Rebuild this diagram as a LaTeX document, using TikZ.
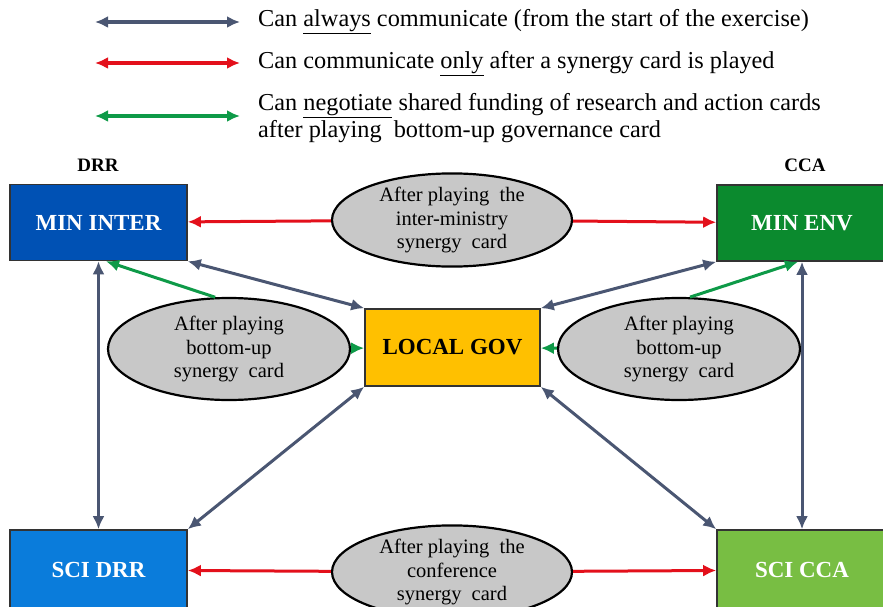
\documentclass[tikz,border=0pt]{standalone}
\usepackage{fontspec}
\setmainfont{Liberation Serif}
\usetikzlibrary{shapes.geometric, arrows.meta}

\definecolor{linkgray}{HTML}{4A5672}
\definecolor{linkred}{HTML}{E3101B}
\definecolor{linkgreen}{HTML}{0E9A48}
\definecolor{interblue}{HTML}{0051B4}
\definecolor{envgreen}{HTML}{0B8A2E}
\definecolor{drrblue}{HTML}{0A7CDB}
\definecolor{ccagreen}{HTML}{78BE43}
\definecolor{govorange}{HTML}{FFC000}
\definecolor{cardgray}{HTML}{C8C8C8}

\tikzset{
	actor/.style={draw=black!80, line width=1.6pt, minimum width=177pt, minimum height=76pt, font=\fontsize{23}{26}\selectfont\bfseries, text=white},
	card/.style={ellipse, draw=black, line width=2.2pt, fill=cardgray, minimum width=240pt, minimum height=84pt, inner sep=0pt, align=center, font=\fontsize{20.5}{23.5}\selectfont},
	side/.style={font=\fontsize{19}{22}\selectfont\bfseries},
	legend/.style={anchor=west, font=\fontsize{24.3}{27}\selectfont, inner sep=0pt},
	always/.style={<->, linkgray, line width=3pt},
	only/.style={<->, linkred, line width=3pt},
	nego/.style={<->, linkgreen, line width=3pt}
}

\begin{document}
\begin{tikzpicture}[x=1pt, y=-1pt, >={Latex[length=13pt,width=12pt]}]
	\useasboundingbox (0,0) rectangle (883,607);
	% legend
	\foreach \y/\kind [count=\i] in {22/always, 63/only, 116/nego} {
		\coordinate (l\i a) at (95,\y);
		\coordinate (l\i b) at (240,\y);
		\draw[\kind, line width=3.6pt] (l\i a) -- (l\i b);
	}
	\node[legend] (t1) at (258,22) {Can \underline{always} communicate (from the start of the exercise)};
	\node[legend] (t2) at (258,64) {Can communicate \underline{only} after a synergy card is played};
	\node[legend, align=left] (t3) at (258,118) {Can \underline{negotiate} shared funding of research and action cards\\after playing~ bottom-up governance card};

	% actors
	\node[side] (drr) at (98,165) {DRR};
	\node[side] (cca) at (805,165) {CCA};
	\node[actor, fill=interblue] (minter) at (98.5,222.5) {MIN INTER};
	\node[actor, fill=envgreen, minimum width=170pt] (minenv) at (802,223) {MIN ENV};
	\node[actor, fill=govorange, text=black, minimum width=175pt, minimum height=77pt] (localgov) at (452.5,347.5) {LOCAL GOV};
	\node[actor, fill=drrblue, minimum height=80pt] (scidrr) at (98.5,570) {SCI DRR};
	\node[actor, fill=ccagreen, minimum width=170pt, minimum height=80pt] (scicca) at (802,570) {SCI CCA};

	% synergy cards
	\node[card] (cardmin) at (452,220) {After playing~ the\\inter-ministry\\synergy~ card};
	\node[card, minimum width=242pt, minimum height=102pt] (cardl) at (229,349) {After playing\\bottom-up\\synergy~ card};
	\node[card, minimum width=242pt, minimum height=102pt] (cardr) at (679,349) {After playing\\bottom-up\\synergy~ card};
	\node[card] (cardsci) at (452,572) {After playing~ the\\conference\\synergy~ card};

	% red links
	\draw[only, ->] (cardmin) -- (minter);
	\draw[only, ->] (cardmin) -- (minenv);
	\draw[only, ->] (cardsci) -- (scidrr);
	\draw[only, ->] (cardsci) -- (scicca);

	% gray links
	\draw[always] (minter.south east) -- (localgov.north west);
	\draw[always] (minenv.south west) -- (localgov.north east);
	\draw[always] (minter) -- (scidrr);
	\draw[always] (minenv) -- (scicca);
	\draw[always] (localgov.south west) -- (scidrr.north east);
	\draw[always] (localgov.south east) -- (scicca.north west);

	% green links
	\draw[nego, ->] (cardl.105) -- (minter.281);
	\draw[nego, ->] (cardl) -- (localgov);
	\draw[nego, ->] (cardr.78) -- (minenv.264);
	\draw[nego, ->] (cardr) -- (localgov);
\end{tikzpicture}
\end{document}
